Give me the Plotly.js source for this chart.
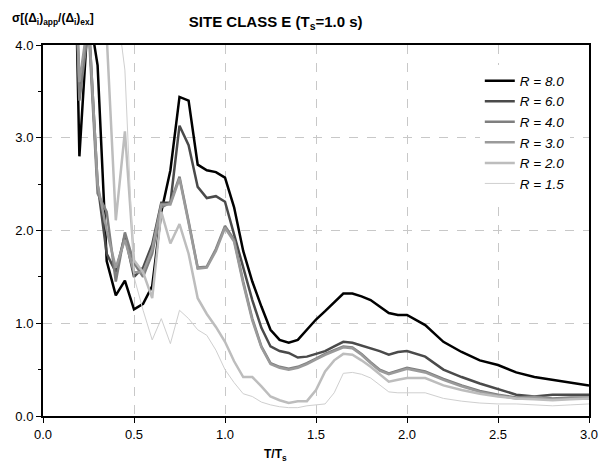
<!DOCTYPE html>
<html>
<head>
<meta charset="utf-8">
<script src="https://cdn.plot.ly/plotly-3.0.1.min.js"></script>
<style>html,body{margin:0;padding:0;background:#fff;}#chart{width:602px;height:476px;}</style>
</head>
<body>
<div id="chart"></div>
<script>
const xT = [0.05,0.1,0.15,0.2,0.25,0.3,0.35,0.4,0.45,0.5,0.55,0.6,0.65,0.7,0.75,0.8,0.85,0.9,0.95,1.0,1.05,1.1,1.15,1.2,1.25,1.3,1.35,1.4,1.45,1.5,1.55,1.6,1.65,1.7,1.75,1.8,1.85,1.9,1.95,2.0,2.1,2.2,2.3,2.4,2.5,2.6,2.7,2.8,2.9,3.0];
const r80 = [9,8,7.5,2.8,4.4,3.78,1.67,1.30,1.46,1.15,1.21,1.40,2.2,2.65,3.44,3.40,2.71,2.65,2.63,2.57,2.25,1.78,1.45,1.18,0.93,0.82,0.79,0.82,0.93,1.04,1.13,1.23,1.32,1.32,1.29,1.25,1.18,1.11,1.09,1.09,0.98,0.80,0.69,0.60,0.55,0.47,0.42,0.39,0.36,0.33];
const r60 = [8.5,7.5,7,3.45,4.3,2.5,1.75,1.55,1.95,1.5,1.6,1.85,2.3,2.3,3.13,2.92,2.47,2.35,2.37,2.31,1.95,1.6,1.25,0.95,0.75,0.70,0.68,0.63,0.64,0.67,0.70,0.75,0.80,0.79,0.76,0.73,0.70,0.66,0.69,0.70,0.64,0.50,0.42,0.35,0.29,0.23,0.21,0.23,0.23,0.23];
const r40 = [8,7,6.5,3.4,4.2,2.4,2.2,1.45,1.98,1.65,1.5,1.75,2.25,2.3,2.58,2.1,1.60,1.61,1.8,2.05,1.90,1.45,1.05,0.75,0.57,0.53,0.51,0.53,0.57,0.62,0.67,0.71,0.75,0.74,0.67,0.58,0.50,0.46,0.49,0.52,0.48,0.40,0.33,0.27,0.23,0.20,0.21,0.19,0.20,0.20];
const r30 = [8,7,6.2,3.6,4.3,2.5,2.0,1.6,1.9,1.55,1.55,1.8,2.28,2.28,2.56,2.08,1.59,1.60,1.78,2.03,1.88,1.43,1.03,0.74,0.56,0.52,0.50,0.52,0.56,0.61,0.66,0.70,0.74,0.73,0.66,0.57,0.49,0.45,0.48,0.51,0.47,0.39,0.32,0.26,0.22,0.19,0.20,0.18,0.19,0.19];
const r20 = [7,6.5,6,5,4.5,4.2,4.1,2.11,3.07,1.68,1.55,1.27,2.2,1.86,2.07,1.75,1.27,1.10,0.96,0.80,0.59,0.42,0.42,0.32,0.21,0.17,0.14,0.16,0.16,0.28,0.48,0.60,0.67,0.66,0.60,0.53,0.45,0.37,0.39,0.41,0.41,0.33,0.28,0.24,0.21,0.19,0.18,0.17,0.18,0.19];
const r15 = [7,6.5,6,5.5,5,4.8,4.6,4.5,3.73,1.5,1.14,0.82,1.05,0.78,1.14,1.05,0.93,0.87,0.71,0.50,0.36,0.24,0.21,0.15,0.12,0.10,0.09,0.09,0.11,0.12,0.13,0.25,0.46,0.47,0.45,0.41,0.33,0.26,0.25,0.25,0.25,0.19,0.16,0.14,0.13,0.13,0.12,0.11,0.12,0.13];
const names = ['<i>R = 8.0</i>','<i>R = 6.0</i>','<i>R = 4.0</i>','<i>R = 3.0</i>','<i>R = 2.0</i>','<i>R = 1.5</i>'];
const series = [r80,r60,r40,r30,r20,r15];
const colors = ['#000000','#4a4a4a','#7f7f7f','#9a9a9a','#bdbdbd','#cfcfcf'];
const widths = [2.5,2.5,2.5,2.5,2.5,1];

const traces = series.map((s,i)=>({
  x: xT, y: s, type:'scatter', mode:'lines', name: names[i],
  line:{color:colors[i], width:widths[i]}
}));

const font = "'Liberation Sans', Arial, sans-serif";
const layout = {
  width:602, height:476,
  margin:{l:43, r:13, t:45, b:60},
  paper_bgcolor:'#fff', plot_bgcolor:'#fff',
  font:{family:font, size:13, color:'#000'},
  showlegend:true,
  legend:{x:0.80, y:0.945, xanchor:'left', yanchor:'top', bgcolor:'#fff', borderwidth:0,
          font:{family:font, size:13.5, color:'#000'}, tracegroupgap:0},
  title:{text:'<b>SITE CLASS E (T<sub>s</sub>=1.0 s)</b>', font:{family:font,size:15,color:'#000'},
         xref:'container', x:0.458, xanchor:'center', yref:'container', y:0.955, yanchor:'middle'},
  xaxis:{range:[0,3], dtick:0.5, tickformat:'.1f', showline:true, linecolor:'#000', linewidth:2, mirror:true,
         ticks:'outside', ticklen:5, tickcolor:'#000', showgrid:true, gridcolor:'#c8c8c8', griddash:'dash', gridwidth:1,
         zeroline:false, tickfont:{family:font,size:13,color:'#000'}},
  yaxis:{range:[0,4], dtick:1, tickformat:'.1f', showline:true, linecolor:'#000', linewidth:2, mirror:true,
         ticks:'outside', ticklen:5, tickcolor:'#000', showgrid:true, gridcolor:'#c8c8c8', griddash:'dash', gridwidth:1,
         zeroline:false, tickfont:{family:font,size:13,color:'#000'},
         minor:{dtick:0.5, ticks:'outside', ticklen:3, tickcolor:'#000', showgrid:false}},
  annotations:[
    {text:'<b>σ[(Δ<sub>i</sub>)<sub>app</sub>/(Δ<sub>i</sub>)<sub>ex</sub>]</b>', xref:'paper', yref:'paper',
     x:-0.06, y:1.07, xanchor:'left', yanchor:'middle', showarrow:false, font:{family:font,size:12,color:'#000'}},
    {text:'<b>T/T<sub>s</sub></b>', xref:'paper', yref:'paper', x:(275-43)/546, y:-0.105, xanchor:'center', yanchor:'middle',
     showarrow:false, font:{family:font,size:12,color:'#000'}}
  ]
};
Plotly.newPlot('chart', traces, layout, {displayModeBar:false, staticPlot:true});
</script>
</body>
</html>
